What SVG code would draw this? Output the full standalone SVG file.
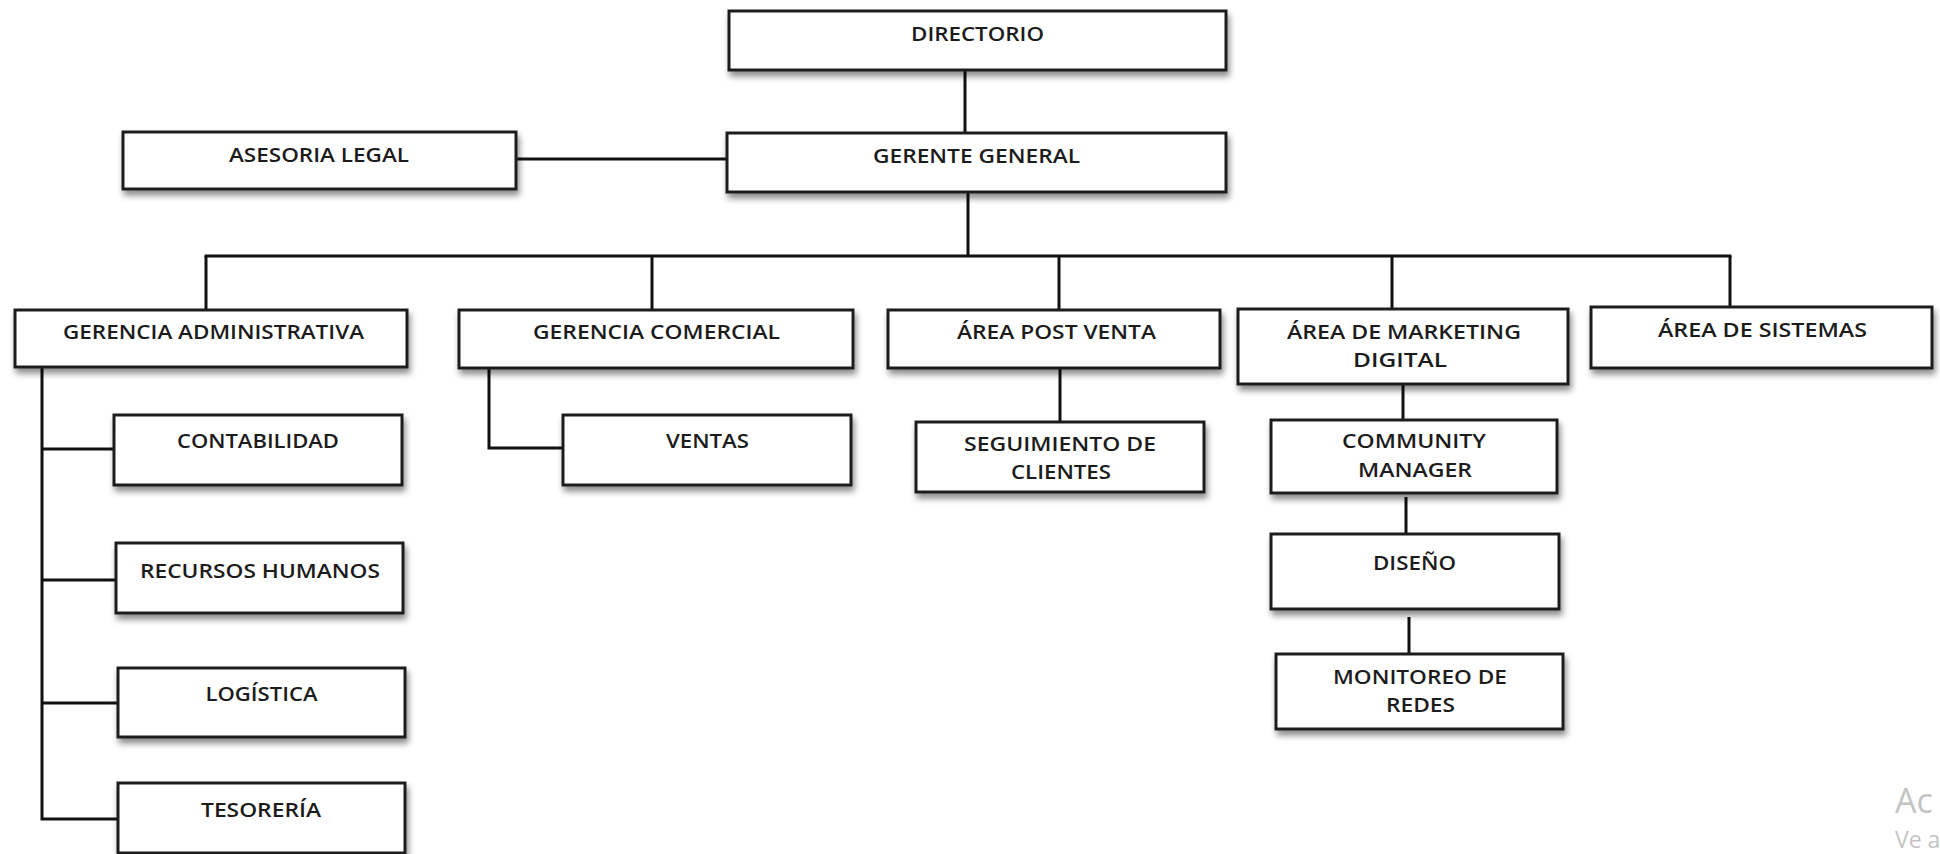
<svg xmlns="http://www.w3.org/2000/svg" width="1940" height="854" viewBox="0 0 1940 854">
<defs>
<filter id="sh" x="-10%" y="-20%" width="125%" height="160%">
<feDropShadow dx="2" dy="5" stdDeviation="3" flood-color="#000" flood-opacity="0.45"/>
</filter>
<style>
.box{fill:#fff;stroke:#1e1e1e;stroke-width:3;filter:url(#sh)}
.t{font-family:"Open Sans","Liberation Sans",sans-serif;font-size:19px;font-weight:600;fill:#1c1c1c;text-anchor:middle}
.c{fill:none;stroke:#111;stroke-width:3}
.wm{font-family:"Open Sans","Liberation Sans",sans-serif;fill:#c4c4c4;font-weight:400}
</style>
</defs>
<rect width="1940" height="854" fill="#fff"/>
<g id="connectors">
<line class="c" x1="965" y1="70" x2="965" y2="133"/>
<line class="c" x1="516" y1="159" x2="727" y2="159"/>
<line class="c" x1="968" y1="192" x2="968" y2="256"/>
<line class="c" x1="204.5" y1="256" x2="1731.5" y2="256"/>
<line class="c" x1="206" y1="256" x2="206" y2="310"/>
<line class="c" x1="652" y1="256" x2="652" y2="310"/>
<line class="c" x1="1059" y1="256" x2="1059" y2="310"/>
<line class="c" x1="1392" y1="256" x2="1392" y2="309"/>
<line class="c" x1="1730" y1="256" x2="1730" y2="307"/>
<path class="c" d="M42 367 V819 H118"/>
<line class="c" x1="42" y1="449" x2="114" y2="449"/>
<line class="c" x1="42" y1="580" x2="116" y2="580"/>
<line class="c" x1="42" y1="703" x2="118" y2="703"/>
<path class="c" d="M489 368 V448 H563"/>
<line class="c" x1="1060" y1="368" x2="1060" y2="422"/>
<line class="c" x1="1403" y1="384" x2="1403" y2="420"/>
<line class="c" x1="1406" y1="497" x2="1406" y2="534"/>
<line class="c" x1="1409" y1="617" x2="1409" y2="654"/>
</g>
<g id="directorio"><rect class="box" x="729" y="11" width="497" height="59"/><text class="t" x="977.5" y="41" textLength="133" lengthAdjust="spacingAndGlyphs">DIRECTORIO</text></g>
<g id="gerente-general"><rect class="box" x="727" y="133" width="499" height="59"/><text class="t" x="976.5" y="163" textLength="207" lengthAdjust="spacingAndGlyphs">GERENTE GENERAL</text></g>
<g id="asesoria-legal"><rect class="box" x="123" y="132" width="393" height="57"/><text class="t" x="319" y="162" textLength="180" lengthAdjust="spacingAndGlyphs">ASESORIA LEGAL</text></g>
<g id="gerencia-administrativa"><rect class="box" x="15" y="310" width="392" height="57"/><text class="t" x="213.5" y="339" textLength="301" lengthAdjust="spacingAndGlyphs">GERENCIA ADMINISTRATIVA</text></g>
<g id="gerencia-comercial"><rect class="box" x="459" y="310" width="394" height="58"/><text class="t" x="656.5" y="339" textLength="247" lengthAdjust="spacingAndGlyphs">GERENCIA COMERCIAL</text></g>
<g id="area-post-venta"><rect class="box" x="888" y="310" width="332" height="58"/><text class="t" x="1056.5" y="339" textLength="199" lengthAdjust="spacingAndGlyphs">ÁREA POST VENTA</text></g>
<g id="area-marketing-digital"><rect class="box" x="1238" y="309" width="330" height="75"/><text class="t" x="1404" y="339" textLength="234" lengthAdjust="spacingAndGlyphs">ÁREA DE MARKETING</text><text class="t" x="1400" y="367" textLength="94" lengthAdjust="spacingAndGlyphs">DIGITAL</text></g>
<g id="area-sistemas"><rect class="box" x="1591" y="307" width="341" height="61"/><text class="t" x="1762.5" y="337" textLength="209" lengthAdjust="spacingAndGlyphs">ÁREA DE SISTEMAS</text></g>
<g id="contabilidad"><rect class="box" x="114" y="415" width="288" height="70"/><text class="t" x="258" y="448" textLength="162" lengthAdjust="spacingAndGlyphs">CONTABILIDAD</text></g>
<g id="recursos-humanos"><rect class="box" x="116" y="543" width="287" height="70"/><text class="t" x="260" y="578" textLength="240" lengthAdjust="spacingAndGlyphs">RECURSOS HUMANOS</text></g>
<g id="logistica"><rect class="box" x="118" y="668" width="287" height="69"/><text class="t" x="261.5" y="701" textLength="112" lengthAdjust="spacingAndGlyphs">LOGÍSTICA</text></g>
<g id="tesoreria"><rect class="box" x="118" y="783" width="287" height="70"/><text class="t" x="261" y="817" textLength="120" lengthAdjust="spacingAndGlyphs">TESORERÍA</text></g>
<g id="ventas"><rect class="box" x="563" y="415" width="288" height="70"/><text class="t" x="707.5" y="448" textLength="83" lengthAdjust="spacingAndGlyphs">VENTAS</text></g>
<g id="seguimiento-clientes"><rect class="box" x="916" y="422" width="288" height="70"/><text class="t" x="1060" y="451" textLength="192" lengthAdjust="spacingAndGlyphs">SEGUIMIENTO DE</text><text class="t" x="1061" y="479" textLength="100" lengthAdjust="spacingAndGlyphs">CLIENTES</text></g>
<g id="community-manager"><rect class="box" x="1271" y="420" width="286" height="73"/><text class="t" x="1414" y="448" textLength="144" lengthAdjust="spacingAndGlyphs">COMMUNITY</text><text class="t" x="1415" y="477" textLength="114" lengthAdjust="spacingAndGlyphs">MANAGER</text></g>
<g id="diseno"><rect class="box" x="1271" y="534" width="288" height="75"/><text class="t" x="1414.5" y="570" textLength="83" lengthAdjust="spacingAndGlyphs">DISEÑO</text></g>
<g id="monitoreo-redes"><rect class="box" x="1276" y="654" width="287" height="75"/><text class="t" x="1420" y="684" textLength="174" lengthAdjust="spacingAndGlyphs">MONITOREO DE</text><text class="t" x="1420.5" y="712" textLength="69" lengthAdjust="spacingAndGlyphs">REDES</text></g>
<text class="wm" x="1895" y="813" font-size="34">Ac</text>
<text class="wm" x="1895" y="848" font-size="23">Ve a</text>
</svg>
